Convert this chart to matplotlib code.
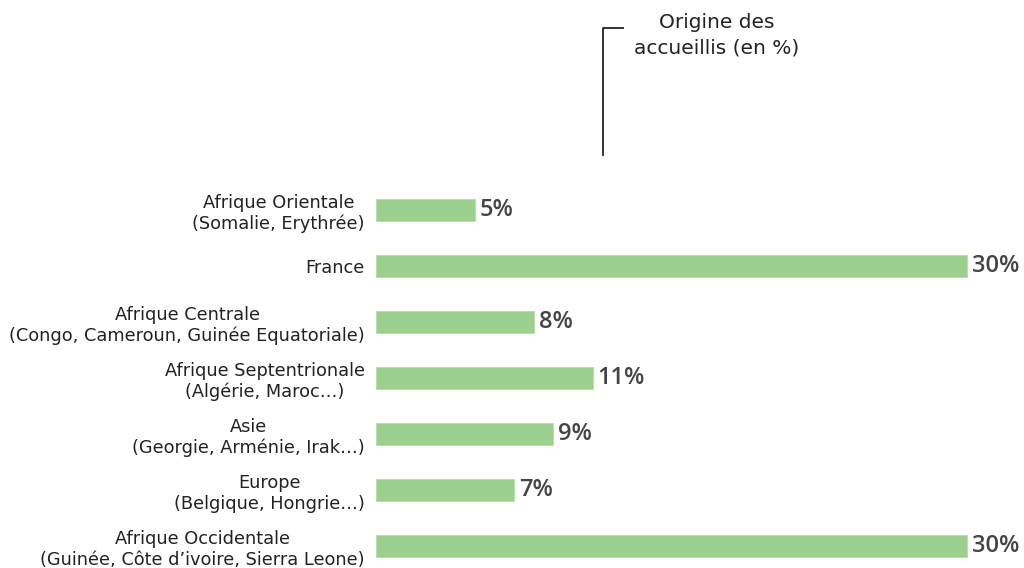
import matplotlib.pyplot as plt
from matplotlib.lines import Line2D

plt.rcParams['font.family'] = ['DejaVu Sans']

# data
regions = [
    'Afrique Orientale\n(Somalie, Erythrée)',
    'France',
    'Afrique Centrale\n(Congo, Cameroun, Guinée Equatoriale)',
    'Afrique Septentrionale\n(Algérie, Maroc…)',
    'Asie\n(Georgie, Arménie, Irak…)',
    'Europe\n(Belgique, Hongrie…)',
    'Afrique Occidentale\n(Guinée, Côte d’ivoire, Sierra Leone)',
]
shares = [5, 30, 8, 11, 9, 7, 30]

fig = plt.figure(figsize=(10.24, 5.68), dpi=100)
W, H = 1024, 568

# axes placed so that 0% sits at x=376px, rows start at y=210px
left_px, top_px = 376, 150
ax = fig.add_axes([left_px / W, 0, (W - left_px) / W, (H - top_px) / H])

pos = list(range(len(regions)))
ax.barh(pos, shares, height=0.39, color='#9dd08f', edgecolor='#b5dcaa', linewidth=0.6)

px_per_pct = 19.7
ax.set_xlim(0, (W - left_px) / px_per_pct)
row_px = 56.0
ax.set_ylim((H - 210) / row_px, (top_px - 210) / row_px)

for y, v in zip(pos, shares):
    ax.text(v + 0.25, y, f'{v}%', va='center', ha='left', fontsize=17,
            color='#444444', family=['Open Sans', 'DejaVu Sans'], fontweight='semibold')

ax.set_yticks(pos)
ax.set_yticklabels(regions, fontsize=12.8, color='#222222', linespacing=1.2)
for t in ax.get_yticklabels():
    t.set_multialignment('center')
ax.tick_params(axis='y', length=0, pad=8)
ax.set_xticks([])
for s in ax.spines.values():
    s.set_visible(False)

# title with bracket
fig.text(717 / W, 1 - 35 / H, 'Origine des\naccueillis (en %)', ha='center', va='center',
         fontsize=14.5, color='#222222', linespacing=1.4)
fig.add_artist(Line2D([603 / W, 603 / W, 623 / W], [1 - 155 / H, 1 - 28 / H, 1 - 28 / H],
                      color='#222222', linewidth=1.3))

fig.savefig('out.png', dpi=100)
